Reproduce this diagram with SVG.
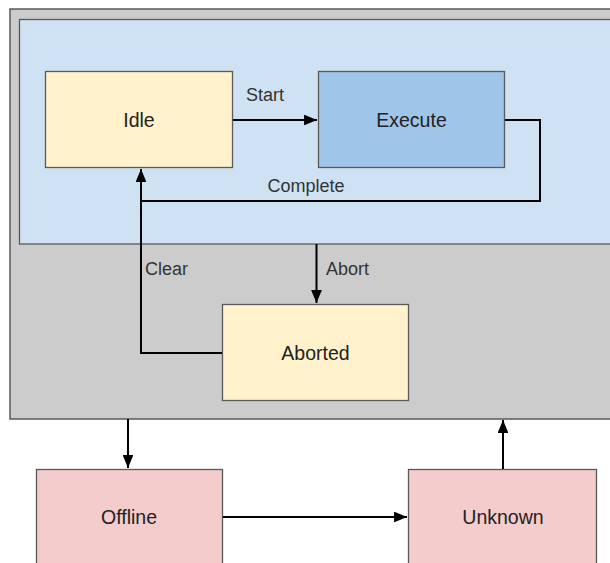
<svg xmlns="http://www.w3.org/2000/svg" width="610" height="563" viewBox="0 0 610 563">
<style>
.node{stroke:#595959;stroke-width:1.3}
.lbl{font-family:"Liberation Sans",Arial,sans-serif;font-size:19.5px;fill:#222;text-anchor:middle}
.elbl{font-family:"Liberation Sans",Arial,sans-serif;font-size:18px;fill:#333}
.conn{fill:none;stroke:#000;stroke-width:2}
</style>
<defs>
<marker id="ah" viewBox="0 0 12 10" refX="12" refY="5" markerWidth="6.5" markerHeight="5.4" orient="auto" markerUnits="strokeWidth">
<path d="M0,0 L12,5 L0,10 z" fill="#000"/>
</marker>
</defs>
<rect width="610" height="563" fill="#ffffff"/>
<g id="online">
<rect x="10" y="9" width="610" height="410" fill="#cccccc" stroke="#595959" stroke-width="1.5"/>
</g>
<g id="running">
<rect x="19.5" y="19.5" width="600" height="224.5" fill="#cfe2f3" stroke="#595959" stroke-width="1.3"/>
</g>
<g id="idle">
<rect class="node" x="45.5" y="71.5" width="187" height="96" fill="#fff2cc"/>
<text class="lbl" x="139" y="127">Idle</text>
</g>
<g id="execute">
<rect class="node" x="318.5" y="71.5" width="186" height="96" fill="#9fc5e8"/>
<text class="lbl" x="411.5" y="127">Execute</text>
</g>
<g id="aborted">
<rect class="node" x="222.5" y="304.5" width="186" height="96" fill="#fff2cc"/>
<text class="lbl" x="315.5" y="360">Aborted</text>
</g>
<g id="offline">
<rect class="node" x="36.5" y="469.5" width="186" height="110" fill="#f4cccc"/>
<text class="lbl" x="129" y="524">Offline</text>
</g>
<g id="unknown">
<rect class="node" x="408.5" y="469.5" width="188" height="110" fill="#f4cccc"/>
<text class="lbl" x="503" y="524">Unknown</text>
</g>
<g id="connectors">
<path class="conn" d="M233,120 H317" marker-end="url(#ah)"/>
<path class="conn" d="M505,120 H540 V201 H141 V169" marker-end="url(#ah)"/>
<path class="conn" d="M316.5,244 V303" marker-end="url(#ah)"/>
<path class="conn" d="M222,353 H141 V201"/>
<path class="conn" d="M128,419 V468" marker-end="url(#ah)"/>
<path class="conn" d="M223,517 H407" marker-end="url(#ah)"/>
<path class="conn" d="M503,469 V420" marker-end="url(#ah)"/>
<text class="elbl" x="265" y="101" text-anchor="middle">Start</text>
<text class="elbl" x="306" y="192" text-anchor="middle">Complete</text>
<text class="elbl" x="145" y="275">Clear</text>
<text class="elbl" x="326" y="275">Abort</text>
</g>
</svg>
